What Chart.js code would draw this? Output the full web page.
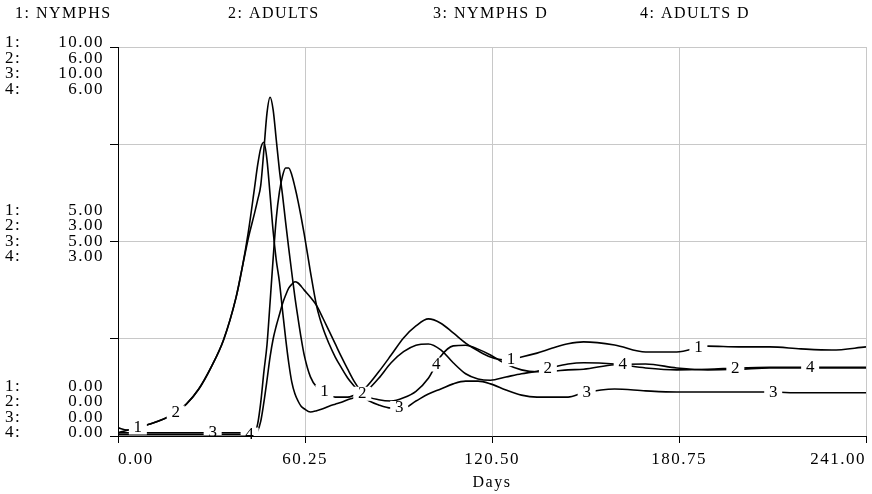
<!DOCTYPE html>
<html>
<head>
<meta charset="utf-8">
<title>Nymphs and adults</title>
<script src="https://cdn.jsdelivr.net/npm/chart.js@4.4.1/dist/chart.umd.min.js"></script>
<style>
  html, body { margin: 0; padding: 0; background: #fff; }
  #grafico { display: block; }
</style>
</head>
<body>
<canvas id="grafico" width="872" height="494"></canvas>
<script>
// Days (time axis)
const days = [0, 3, 6, 10, 14, 18, 22, 26, 30, 34, 38, 40, 42, 44,
  45, 46, 47, 48, 49, 50, 51, 52, 53, 54, 55, 56, 57, 58, 59, 60,
  62, 64, 66, 68, 70, 72, 74, 76, 78, 80,
  84, 88, 92, 96, 100, 104, 108, 112, 116, 120,
  125, 130, 135, 140, 145, 150,
  160, 170, 180, 190, 200, 210, 220, 230, 241];

// 1: NYMPHS (0 - 10)
const nymphs = [0.21, 0.15, 0.21, 0.30, 0.41, 0.57, 0.82, 1.21, 1.77, 2.47, 3.55, 4.32, 5.09, 5.73,
  6.07, 6.45, 7.35, 8.30, 8.71, 8.38, 7.61, 6.84, 6.20, 5.50, 4.83, 4.19, 3.57, 3.03, 2.52, 2.08,
  1.52, 1.26, 1.16, 1.05, 1.00, 1.00, 1.00, 1.05, 1.13, 1.26,
  1.65, 2.08, 2.52, 2.83, 3.01, 2.90, 2.65, 2.39, 2.19, 2.03,
  1.95, 2.03, 2.13, 2.26, 2.37, 2.42,
  2.34, 2.16, 2.16, 2.31, 2.29, 2.29, 2.24, 2.21, 2.29];

// 2: ADULTS (0 - 6)
const adults = [0.05, 0.09, 0.12, 0.18, 0.25, 0.34, 0.49, 0.72, 1.06, 1.48, 2.13, 2.59, 3.15, 3.83,
  4.18, 4.44, 4.53, 4.26, 3.72, 3.15, 2.71, 2.38, 1.94, 1.51, 1.13, 0.83, 0.65, 0.54, 0.46, 0.42,
  0.37, 0.39, 0.42, 0.46, 0.49, 0.52, 0.56, 0.59, 0.63, 0.69,
  0.89, 1.13, 1.30, 1.40, 1.42, 1.33, 1.13, 0.96, 0.88, 0.86,
  0.91, 0.96, 1.00, 1.06, 1.11, 1.13,
  1.11, 1.05, 1.02, 1.03, 1.05, 1.06, 1.06, 1.06, 1.06];

// 3: NYMPHS D (0 - 10)
const nymphsD = [0.08, 0.08, 0.08, 0.08, 0.08, 0.08, 0.08, 0.08, 0.08, 0.08, 0.08, 0.08, 0.08, 0.10,
  0.31, 0.87, 1.65, 2.34, 3.44, 4.58, 5.60, 6.27, 6.68, 6.89, 6.89, 6.71, 6.40, 6.04, 5.63, 5.19,
  4.22, 3.34, 2.78, 2.37, 2.03, 1.75, 1.49, 1.29, 1.11, 0.95,
  0.80, 0.72, 0.72, 0.90, 1.08, 1.21, 1.34, 1.41, 1.41, 1.34,
  1.18, 1.05, 1.00, 1.00, 1.00, 1.11,
  1.21, 1.16, 1.13, 1.13, 1.13, 1.13, 1.11, 1.11, 1.11];

// 4: ADULTS D (0 - 6)
const adultsD = [0.02, 0.02, 0.02, 0.02, 0.02, 0.02, 0.02, 0.02, 0.02, 0.02, 0.02, 0.02, 0.02, 0.03,
  0.08, 0.23, 0.52, 0.86, 1.22, 1.50, 1.70, 1.87, 2.04, 2.17, 2.28, 2.34, 2.38, 2.36, 2.31, 2.25,
  2.14, 2.01, 1.82, 1.62, 1.42, 1.22, 1.03, 0.85, 0.71, 0.62,
  0.56, 0.54, 0.59, 0.69, 0.89, 1.23, 1.39, 1.40, 1.34, 1.25,
  1.11, 1.02, 0.99, 1.00, 1.02, 1.03,
  1.10, 1.11, 1.05, 1.02, 1.03, 1.05, 1.05, 1.05, 1.05];

const seriesNames = ['NYMPHS', 'ADULTS', 'NYMPHS D', 'ADULTS D'];
const seriesValues = [nymphs, adults, nymphsD, adultsD];
const scaleMax = [10, 6, 10, 6];          // top of each series' own scale
const xTicks = [0, 60.25, 120.5, 180.75, 241];
const yTicks = [0, 2.5, 5, 7.5, 10];
// days where the series number is written on each curve
const labelDays = [
  [6.4, 66.5, 126.6, 187.0],
  [18.6, 78.7, 138.5, 198.9],
  [30.5, 90.6, 151.0, 211.1],
  [42.4, 102.5, 162.6, 223.0]
];

const FUENTE = "'Liberation Serif', 'Times New Roman', serif";
const ESPACIADO = '1.5px';

// valor de una serie en un dia cualquiera (interpolacion lineal)
function valorEn(valores, dia) {
  for (let i = 1; i < days.length; i++) {
    if (dia <= days[i]) {
      const t = (dia - days[i - 1]) / (days[i] - days[i - 1]);
      return valores[i - 1] + t * (valores[i] - valores[i - 1]);
    }
  }
  return valores[valores.length - 1];
}

const textosStella = {
  id: 'textosStella',
  beforeUpdate(chart) { chart.ctx.letterSpacing = ESPACIADO; },
  beforeLayout(chart) { chart.ctx.letterSpacing = ESPACIADO; },
  beforeDraw(chart) {
    const ctx = chart.ctx;
    ctx.letterSpacing = ESPACIADO;
    ctx.save();
    ctx.fillStyle = '#fff';
    ctx.fillRect(0, 0, chart.width, chart.height);
    ctx.restore();
  },
  afterDatasetsDraw(chart) {
    const ctx = chart.ctx;
    const area = chart.chartArea;
    const xs = chart.scales.x;
    ctx.save();
    ctx.font = '17px ' + FUENTE;
    ctx.textAlign = 'center';
    ctx.textBaseline = 'middle';
    seriesValues.forEach((valores, i) => {
      const ys = chart.scales[i % 2 === 0 ? 'y' : 'y2'];
      const texto = String(i + 1);
      const w = ctx.measureText(texto).width;
      labelDays[i].forEach(dia => {
        const px = xs.getPixelForValue(dia);
        const py = ys.getPixelForValue(valorEn(valores, dia));
        // hueco blanco en la linea, sin tapar los ejes
        ctx.save();
        ctx.beginPath();
        ctx.rect(area.left + 1, area.top, area.right - area.left - 1, area.bottom - area.top - 1);
        ctx.clip();
        ctx.fillStyle = '#fff';
        ctx.fillRect(px - w / 2 - 4, py - 7, w + 8, 14);
        ctx.restore();
        ctx.fillStyle = '#000';
        ctx.fillText(texto, px + 0.75, py);
      });
    });
    ctx.restore();
  },
  afterDraw(chart) {
    const ctx = chart.ctx;
    const ys = chart.scales.y;
    ctx.save();
    ctx.fillStyle = '#000';
    ctx.textBaseline = 'middle';

    // cabecera con los nombres de las series
    ctx.font = '16px ' + FUENTE;
    ctx.textAlign = 'left';
    const cabeceraX = [15, 228, 433, 640];
    seriesNames.forEach((nombre, i) => {
      ctx.fillText((i + 1) + ': ' + nombre, cabeceraX[i], 14);
    });

    // bloques de valores del eje vertical (uno por serie)
    ctx.font = '17px ' + FUENTE;
    const paso = 15.5;
    const bloques = [
      { frac: 1, y0: ys.getPixelForValue(10) - 4 },
      { frac: 0.5, y0: ys.getPixelForValue(5) - 2 * paso },
      { frac: 0, y0: ys.getPixelForValue(0) - 3 - 3 * paso }
    ];
    bloques.forEach(b => {
      scaleMax.forEach((max, i) => {
        const y = b.y0 + i * paso;
        ctx.textAlign = 'left';
        ctx.fillText((i + 1) + ':', 5, y);
        ctx.textAlign = 'right';
        ctx.fillText((max * b.frac).toFixed(2), 104, y);
      });
    });
    ctx.restore();
  }
};

const ctx1 = document.getElementById('grafico').getContext('2d');

const chart1 = new Chart(ctx1, {
  type: 'line',
  data: {
    datasets: seriesValues.map((valores, i) => ({
      label: seriesNames[i],
      data: days.map((d, k) => ({ x: d, y: valores[k] })),
      yAxisID: i % 2 === 0 ? 'y' : 'y2',
      borderColor: '#000',
      borderWidth: 1.6,
      pointRadius: 0,
      fill: false,
      cubicInterpolationMode: 'monotone'
    }))
  },
  options: {
    responsive: false,
    animation: false,
    events: [],
    layout: { padding: { left: 110, top: 47, right: 4, bottom: 0 } },
    plugins: {
      legend: { display: false },
      tooltip: { enabled: false }
    },
    scales: {
      x: {
        type: 'linear',
        position: 'bottom',
        min: 0,
        max: 241,
        afterBuildTicks: scale => { scale.ticks = xTicks.map(v => ({ value: v })); },
        afterFit: scale => { scale.height = 58; },
        ticks: {
          align: 'inner',
          padding: 6,
          color: '#000',
          font: { family: FUENTE, size: 17 },
          maxRotation: 0,
          callback: v => Number(v).toFixed(2)
        },
        grid: { color: '#c8c8c8', tickColor: '#000', tickLength: 7, lineWidth: 1 },
        border: { color: '#000', width: 1 },
        title: {
          display: true,
          text: 'Days',
          color: '#000',
          font: { family: FUENTE, size: 16 },
          padding: { top: 0, bottom: 2 }
        }
      },
      y: {
        position: 'left',
        min: 0,
        max: 10,
        afterBuildTicks: scale => { scale.ticks = yTicks.map(v => ({ value: v })); },
        afterFit: scale => { scale.width = 8; },
        ticks: { display: false },
        grid: { color: '#c8c8c8', tickColor: '#000', tickLength: 8, lineWidth: 1 },
        border: { color: '#000', width: 1 }
      },
      y2: {
        position: 'left',
        display: false,
        min: 0,
        max: 6
      }
    }
  },
  plugins: [textosStella]
});
</script>
</body>
</html>
